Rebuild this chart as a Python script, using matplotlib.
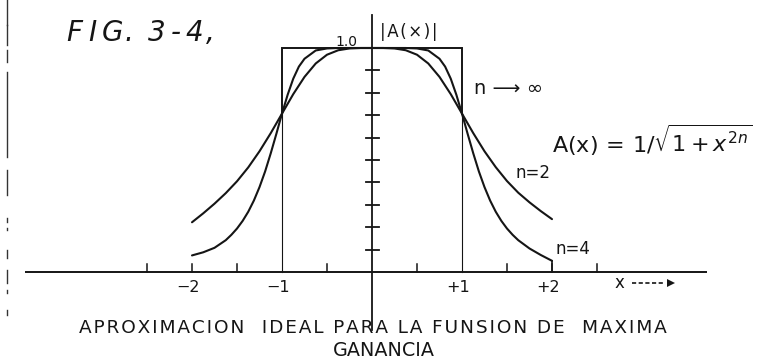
import matplotlib
matplotlib.use("Agg")
import matplotlib.pyplot as plt

# Sampled response curve |A(x)| for n = 2
x_n2 = [-2.0, -1.875, -1.75, -1.625, -1.5, -1.375, -1.25, -1.125, -1.0,
        -0.875, -0.75, -0.625, -0.5, -0.375, -0.25, -0.125, 0.0,
        0.125, 0.25, 0.375, 0.5, 0.625, 0.75, 0.875, 1.0,
        1.125, 1.25, 1.375, 1.5, 1.625, 1.75, 1.875, 2.0]
a_n2 = [0.222, 0.262, 0.305, 0.352, 0.405, 0.467, 0.539, 0.620, 0.707,
        0.794, 0.871, 0.931, 0.970, 0.990, 0.998, 1.000, 1.000,
        1.000, 0.998, 0.990, 0.970, 0.931, 0.871, 0.794, 0.707,
        0.620, 0.539, 0.468, 0.406, 0.354, 0.311, 0.272, 0.236]

# Sampled response curve |A(x)| for n = 4 (denser around the knees)
x_n4 = [-2.0, -1.875, -1.75, -1.625, -1.5625, -1.5, -1.4375, -1.375,
        -1.3125, -1.25, -1.1875, -1.125, -1.0625, -1.0, -0.9375, -0.875,
        -0.8125, -0.75, -0.625, -0.5, -0.375, -0.25, -0.125, 0.0,
        0.125, 0.25, 0.375, 0.5, 0.625, 0.75, 0.8125, 0.875,
        0.9375, 1.0, 1.0625, 1.125, 1.1875, 1.25, 1.3125, 1.375,
        1.4375, 1.5, 1.5625, 1.625, 1.75, 1.875, 2.0]
a_n4 = [0.074, 0.088, 0.108, 0.142, 0.166, 0.194, 0.228, 0.269,
        0.319, 0.379, 0.449, 0.530, 0.617, 0.707, 0.791, 0.863,
        0.917, 0.952, 0.989, 0.998, 1.000, 1.000, 1.000, 1.000,
        1.000, 1.000, 1.000, 0.998, 0.989, 0.952, 0.917, 0.863,
        0.791, 0.707, 0.617, 0.530, 0.449, 0.379, 0.319, 0.269,
        0.228, 0.194, 0.166, 0.142, 0.105, 0.076, 0.050]

# Ideal (n -> infinity) rectangular response
ideal_edges = [-1.0, 1.0]
ideal_level = 1.0
cross_level = 0.707

# Axis ticks
x_ticks = [-2.5, -2.0, -1.5, -0.5, 0.5, 1.5, 2.0, 2.5]
y_ticks = [0.1, 0.2, 0.3, 0.4, 0.5, 0.6, 0.7, 0.8, 0.9]
x_labels = {-2.0: "\u22122", -1.0: "\u22121", 1.0: "+1", 2.0: "+2"}

INK = "#151515"
HAIR = "\u200a"

W, H = 771, 359
X0, XU = 372.0, 90.0     # pixel column of x = 0, pixels per unit
Y0, YU = 272.0, 224.0    # pixel row of y = 0, pixels per unit


def px_x(p):
    return (p - X0) / XU


def px_y(p):
    return (Y0 - p) / YU


def spaced(s, n=1):
    return (HAIR * n).join(s)


fig = plt.figure(figsize=(W / 100, H / 100), dpi=100)
fig.patch.set_facecolor("white")
ax = fig.add_axes([0, 0, 1, 1])
ax.set_xlim(px_x(0), px_x(W))
ax.set_ylim(px_y(H), px_y(0))
ax.axis("off")

# horizontal x axis and vertical |A(x)| axis
ax.plot([px_x(25), px_x(707)], [0, 0], color=INK, lw=1.4, solid_capstyle="butt")
ax.plot([0, 0], [px_y(15), px_y(330)], color=INK, lw=1.3)

# x ticks (short upward marks)
for t in x_ticks:
    ax.plot([t, t], [0, 8 / YU], color=INK, lw=1.1)

# y ticks (crossing marks)
for t in y_ticks:
    ax.plot([-6.5 / XU, 6.5 / XU], [t, t], color=INK, lw=1.3)

# ideal rectangle
xl, xr = ideal_edges
ax.plot([xl, xl, xr, xr], [cross_level, ideal_level, ideal_level, cross_level],
        color=INK, lw=1.4, solid_joinstyle="miter")
ax.plot([xl, xl], [0, cross_level], color=INK, lw=0.8)
ax.plot([xr, xr], [0, cross_level], color=INK, lw=0.8)

# n = 2 and n = 4 curves
ax.plot(x_n2, a_n2, color=INK, lw=1.5, solid_capstyle="round",
        solid_joinstyle="round")
ax.plot(x_n4, a_n4, color=INK, lw=1.5, solid_capstyle="round",
        solid_joinstyle="round")
ax.plot([x_n4[-1], x_n4[-1]], [0, a_n4[-1]], color=INK, lw=1.2)

# tick labels on x axis
for v, s in x_labels.items():
    ax.text(v - 4 / XU, px_y(288), s, ha="center", va="center",
            fontsize=11.5, color=INK)

# x axis name with dashed arrow
ax.text(px_x(619), px_y(283), "x", ha="center", va="center",
        fontsize=12, color=INK)
ax.plot([px_x(632), px_x(664)], [px_y(283), px_y(283)], color=INK,
        lw=1.2, ls=(0, (2.5, 1.5)))
ax.plot([px_x(671)], [px_y(283)], marker=">", markersize=6, color=INK,
        markeredgewidth=0)

# vertical axis annotations
ax.text(px_x(346), px_y(42), "1.0", ha="center", va="center",
        fontsize=10, color=INK)
ax.text(px_x(409), px_y(32), spaced("|A(\u00d7)|"), ha="center", va="center",
        fontsize=12, color=INK)

# curve labels
ax.text(px_x(508), px_y(88), "n \u27f6 \u221e", ha="center", va="center",
        fontsize=14, color=INK)
ax.text(px_x(533), px_y(173), "n=2", ha="center", va="center",
        fontsize=12, color=INK)
ax.text(px_x(573), px_y(249), "n=4", ha="center", va="center",
        fontsize=12, color=INK)

# transfer function
ax.text(px_x(652), px_y(140), r"$\mathrm{A(x)}\,=\,1/\sqrt{1+x^{2n}}$",
        ha="center", va="center", fontsize=16, color=INK)

# figure number, hand lettered
fig_chars = [("F", 74), ("I", 92), ("G", 112), (".", 129), ("3", 157),
             ("-", 176), ("4", 194), (",", 210)]
for ch, cx in fig_chars:
    ax.text(px_x(cx), px_y(33), ch, ha="center", va="center",
            fontsize=20, style="italic", color=INK)

# caption
ax.text(px_x(373), px_y(328),
        spaced("APROXIMACION  IDEAL PARA LA FUNSION DE  MAXIMA"),
        ha="center", va="center", fontsize=13.3, color=INK)
ax.text(px_x(384), px_y(350), "GANANCIA", ha="center", va="center",
        fontsize=13.8, color=INK)

# broken page edge on the left
edge_segments = [(0, 25), (25, 45), (50, 62), (72, 157), (170, 195),
                 (218, 222), (228, 230), (250, 258), (270, 283),
                 (290, 293), (310, 315)]
for a, b in edge_segments:
    ax.plot([px_x(7), px_x(7)], [px_y(a), px_y(b)], color="#333333", lw=1.0)

fig.savefig("out.png", dpi=100, facecolor="white")
